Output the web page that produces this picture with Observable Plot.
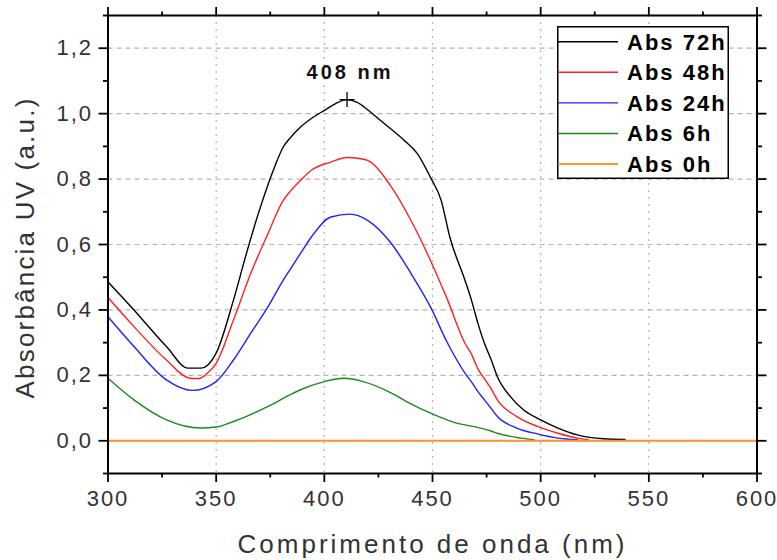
<!DOCTYPE html>
<html>
<head>
<meta charset="utf-8">
<script src="https://cdn.jsdelivr.net/npm/d3@7"></script>
<script src="https://cdn.jsdelivr.net/npm/@observablehq/plot@0.6"></script>
<style>
  body { margin: 0; background: #fff; }
  #wrap { position: relative; width: 777px; height: 560px; overflow: hidden; }
  #wrap svg { font-family: "Liberation Sans", Arial, sans-serif; }
  g[aria-label="x-axis tick label"] text, g[aria-label="y-axis tick label"] text { letter-spacing: 2px; }
  .xtitle text { letter-spacing: 3px; }
  .ytitle text { letter-spacing: 2.2px; }
  .peaklbl text { letter-spacing: 3px; }
  #legend { position: absolute; left: 557px; top: 26px; }
</style>
</head>
<body>
<div id="wrap"></div>
<script>
// ---- data ----
const seriesNames = ["Abs 72h", "Abs 48h", "Abs 24h", "Abs 6h", "Abs 0h"];
const seriesColors = ["#000000", "#ff2020", "#2020ff", "#1b8a1b", "#ff9428"];

const wl72  = [300, 312, 327, 337, 343, 350, 358, 364, 370, 377, 381, 384, 389, 394, 400, 405, 410.5, 415, 420, 426, 437, 443, 449, 454, 458, 465, 468, 471, 474, 477, 480, 486, 492, 500, 508, 517, 529, 539];
const abs72 = [0.486, 0.40, 0.288, 0.222, 0.222, 0.268, 0.43, 0.573, 0.705, 0.837, 0.898, 0.924, 0.959, 0.985, 1.01, 1.03, 1.043, 1.035, 1.012, 0.979, 0.918, 0.878, 0.806, 0.735, 0.623, 0.491, 0.43, 0.359, 0.298, 0.25, 0.196, 0.135, 0.095, 0.064, 0.039, 0.018, 0.006, 0.004];

const wl48  = [300, 312, 327, 338, 342, 346, 350, 358, 366, 374, 381, 384, 389, 394, 403, 410.5, 416, 420, 431, 440, 449, 457, 465, 468, 471, 474, 477, 480, 489, 498.5, 508, 517, 522];
const abs48 = [0.438, 0.349, 0.247, 0.191, 0.19, 0.207, 0.237, 0.369, 0.512, 0.634, 0.735, 0.761, 0.796, 0.827, 0.852, 0.866, 0.863, 0.857, 0.776, 0.674, 0.552, 0.43, 0.298, 0.265, 0.22, 0.19, 0.16, 0.125, 0.074, 0.044, 0.023, 0.008, 0.003];

const wl24  = [300, 312, 327, 339, 350, 358, 366, 374, 381, 384, 389, 394, 403, 412, 420, 431, 440, 449, 457, 465, 468, 471, 474, 477, 480, 489, 498.5, 508, 517];
const abs24 = [0.379, 0.288, 0.186, 0.154, 0.181, 0.247, 0.329, 0.41, 0.491, 0.522, 0.573, 0.623, 0.684, 0.693, 0.674, 0.603, 0.512, 0.41, 0.298, 0.207, 0.18, 0.15, 0.125, 0.10, 0.074, 0.039, 0.021, 0.008, 0.003];

const wl6   = [300, 312, 327, 343, 350, 358, 374, 384, 389, 400, 409, 418, 431, 438, 451, 461, 468, 477, 480, 491, 497];
const abs6  = [0.191, 0.125, 0.064, 0.039, 0.042, 0.059, 0.105, 0.14, 0.156, 0.181, 0.191, 0.181, 0.146, 0.12, 0.079, 0.054, 0.045, 0.03, 0.023, 0.008, 0.003];

const wl0   = [300, 600];
const abs0  = [0, 0];

const xMajor = [300, 350, 400, 450, 500, 550, 600];
const xMinor = [325, 375, 425, 475, 525, 575];
const yMajor = [0, 0.2, 0.4, 0.6, 0.8, 1.0, 1.2];
const yMinor = [-0.1, 0.1, 0.3, 0.5, 0.7, 0.9, 1.1, 1.3];

const peakWl = [410.5];
const peakAbs = [1.043];
const peakLabel = ["408 nm"];

const xTitle = "Comprimento de onda (nm)";
const yTitle = "Absorbância UV (a.u.)";

// ---- build table ----
const wls = [wl72, wl48, wl24, wl6, wl0];
const abss = [abs72, abs48, abs24, abs6, abs0];
const rows = [];
seriesNames.forEach((name, i) => {
  wls[i].forEach((w, j) => rows.push({series: name, wl: w, abs: abss[i][j]}));
});
const peaks = peakWl.map((w, i) => ({wl: w, abs: peakAbs[i], label: peakLabel[i]}));

const fmtY = d => d.toFixed(1).replace(".", ",");
const blank = () => "";
const crossSymbol = {
  draw(ctx, size) {
    const r = Math.sqrt(size / Math.PI);
    ctx.moveTo(-r, 0); ctx.lineTo(r, 0);
    ctx.moveTo(0, -r); ctx.lineTo(0, r);
  }
};

const tickStyle = {stroke: "#000", strokeWidth: 1.8};
const labelStyle = {fontSize: 22, fill: "#333"};

const chart = Plot.plot({
  width: 777,
  height: 560,
  marginLeft: 107.5,
  marginRight: 20.5,
  marginTop: 15,
  marginBottom: 87,
  style: {fontFamily: "Liberation Sans, Arial, sans-serif", background: "#fff"},
  x: {domain: [300, 600]},
  y: {domain: [-0.1, 1.3]},
  color: {domain: seriesNames, range: seriesColors},
  marks: [
    Plot.gridX({ticks: [350, 400, 450, 500, 550], stroke: "#b4b4b4", strokeOpacity: 1, strokeWidth: 1.2, strokeDasharray: "2,5"}),
    Plot.gridY({ticks: yMajor, stroke: "#b4b4b4", strokeOpacity: 1, strokeWidth: 1.2, strokeDasharray: "5,4"}),
    Plot.line(rows.filter(d => d.series !== "Abs 0h"), {x: "wl", y: "abs", z: "series", stroke: "series", strokeWidth: 1.4, curve: "monotone-x"}),
    Plot.line(rows.filter(d => d.series === "Abs 0h"), {x: "wl", y: "abs", stroke: "series", strokeWidth: 2}),
    Plot.frame({stroke: "#000", strokeWidth: 2}),
    // bottom axis
    Plot.axisX({ticks: xMajor, tickSize: 9, tickPadding: 8, tickFormat: d => String(d), label: null, ...tickStyle, ...labelStyle}),
    Plot.axisX({ticks: xMinor, tickSize: 4.5, tickFormat: blank, label: null, ...tickStyle}),
    // top axis
    Plot.axisX({anchor: "top", ticks: xMajor, tickSize: 9, tickFormat: blank, label: null, ...tickStyle}),
    Plot.axisX({anchor: "top", ticks: xMinor, tickSize: 4.5, tickFormat: blank, label: null, ...tickStyle}),
    // left axis
    Plot.axisY({ticks: yMajor, tickSize: 9, tickPadding: 6, tickFormat: fmtY, label: null, ...tickStyle, ...labelStyle}),
    Plot.axisY({ticks: yMinor, tickSize: 4.5, tickFormat: blank, label: null, ...tickStyle}),
    // right axis
    Plot.axisY({anchor: "right", ticks: yMajor, tickSize: 9, tickFormat: blank, label: null, ...tickStyle}),
    Plot.axisY({anchor: "right", ticks: yMinor, tickSize: 4.5, tickFormat: blank, label: null, ...tickStyle}),
    // peak annotation
    Plot.dot(peaks, {x: "wl", y: "abs", symbol: crossSymbol, r: 7.5, stroke: "#000", strokeWidth: 1.3, fill: "none"}),
    Plot.text(peaks, {x: "wl", y: "abs", text: "label", dy: -21, dx: 3, lineAnchor: "bottom", fontSize: 20, fontWeight: "bold", fill: "#111", className: "peaklbl"}),
    // axis titles
    Plot.text([xTitle], {text: d => d, frameAnchor: "bottom", textAnchor: "middle", dy: 79, lineAnchor: "bottom", fontSize: 26, fill: "#333", className: "xtitle"}),
    Plot.text([yTitle], {text: d => d, frameAnchor: "left", textAnchor: "middle", rotate: -90, dx: -74.5, dy: 3, lineAnchor: "bottom", fontSize: 26, fill: "#333", className: "ytitle"})
  ]
});

const wrap = document.getElementById("wrap");
wrap.appendChild(chart);

// ---- legend (overlay) ----
const lw = 172, lh = 153;
const leg = d3.select(wrap).append("svg")
  .attr("id", "legend")
  .attr("width", lw).attr("height", lh)
  .style("font-family", "Liberation Sans, Arial, sans-serif");
leg.append("rect").attr("x", 0.75).attr("y", 0.75).attr("width", lw - 1.5).attr("height", lh - 1.5)
  .attr("fill", "#fff").attr("stroke", "#000").attr("stroke-width", 1.5);
const rowY = i => 15.7 + i * 30.6;
const item = leg.selectAll("g.item").data(seriesNames).join("g").attr("class", "item")
  .attr("transform", (d, i) => `translate(0,${rowY(i)})`);
item.append("line").attr("x1", 1).attr("x2", 61).attr("y1", 0).attr("y2", 0)
  .attr("stroke", (d, i) => seriesColors[i]).attr("stroke-width", (d, i) => i === 4 ? 2 : 1.4);
item.append("text").attr("x", 70).attr("y", 0).attr("dy", "0.36em")
  .attr("font-size", 22).attr("font-weight", "bold").attr("letter-spacing", "2px")
  .attr("fill", "#000").text(d => d);
</script>
</body>
</html>
